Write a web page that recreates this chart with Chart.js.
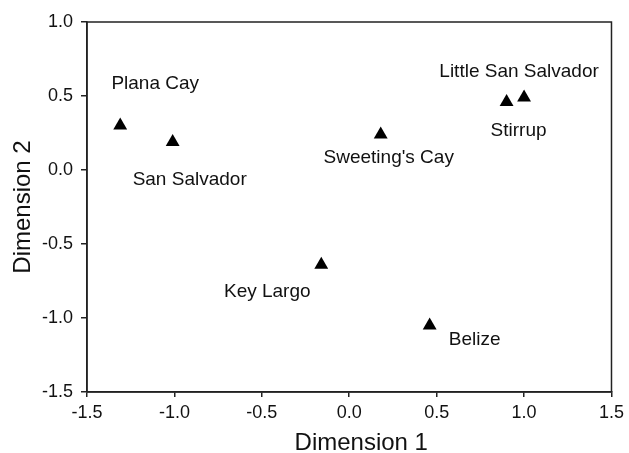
<!DOCTYPE html>
<html>
<head>
<meta charset="utf-8">
<script src="https://cdn.jsdelivr.net/npm/chart.js@4"></script>
<style>
  html, body { margin: 0; padding: 0; background: #fff; }
  #wrap { width: 629px; height: 453px; position: relative; }
</style>
</head>
<body>
<div id="wrap"><canvas id="c"></canvas></div>
<script>
// ---- data ----
const sites = ['Plana Cay', 'San Salvador', "Sweeting's Cay", 'Little San Salvador', 'Stirrup', 'Key Largo', 'Belize'];
const dim1 = [-1.31, -1.01, 0.18, 1.00, 0.90, -0.16, 0.46];
const dim2 = [0.30, 0.19, 0.24, 0.49, 0.46, -0.64, -1.05];
const xTicks = [-1.5, -1.0, -0.5, 0.0, 0.5, 1.0, 1.5];
const yTicks = [-1.5, -1.0, -0.5, 0.0, 0.5, 1.0];
const xTitle = 'Dimension 1';
const yTitle = 'Dimension 2';

// ---- label placement (pixel offsets from the marker: text centre x, baseline y) ----
const labelOffsets = {
  'Plana Cay': [35, -37],
  'San Salvador': [17, 43],
  "Sweeting's Cay": [8, 29],
  'Little San Salvador': [-5, -20],
  'Stirrup': [12, 34],
  'Key Largo': [-54, 32],
  'Belize': [45, 20]
};

const FONT = '"Liberation Sans", Arial, Helvetica, sans-serif';
const AXIS_COLOR = '#222';

const pointLabels = {
  id: 'pointLabels',
  afterDatasetsDraw(chart) {
    const ctx = chart.ctx;
    const meta = chart.getDatasetMeta(0);
    ctx.save();
    ctx.font = '19px ' + FONT;
    ctx.fillStyle = '#111';
    ctx.textAlign = 'center';
    ctx.textBaseline = 'alphabetic';
    meta.data.forEach((el, i) => {
      const off = labelOffsets[sites[i]] || [0, 0];
      ctx.fillText(sites[i], el.x + off[0], el.y + off[1]);
    });
    ctx.restore();
  }
};

const frame = {
  id: 'frame',
  afterDraw(chart) {
    const a = chart.chartArea;
    const ctx = chart.ctx;
    ctx.save();
    ctx.strokeStyle = AXIS_COLOR;
    ctx.lineWidth = 1.5;
    ctx.beginPath();
    ctx.moveTo(a.left, a.bottom);
    ctx.lineTo(a.left, a.top);
    ctx.lineTo(a.right, a.top);
    ctx.lineTo(a.right, a.bottom);
    ctx.lineTo(a.left, a.bottom);
    ctx.stroke();
    // axis titles
    ctx.fillStyle = '#111';
    ctx.font = '24px ' + FONT;
    ctx.textAlign = 'center';
    ctx.textBaseline = 'alphabetic';
    ctx.fillText(xTitle, (a.left + a.right) / 2 + 12, 450);
    ctx.translate(30, (a.top + a.bottom) / 2);
    ctx.rotate(-Math.PI / 2);
    ctx.fillText(yTitle, 0, 0);
    ctx.restore();
  }
};

new Chart(document.getElementById('c'), {
  type: 'scatter',
  data: {
    datasets: [{
      label: 'sites',
      data: dim1.map((x, i) => ({ x: x, y: dim2[i] })),
      pointStyle: 'triangle',
      pointRadius: 8,
      pointHoverRadius: 8,
      backgroundColor: '#000',
      borderColor: '#000',
      borderWidth: 0
    }]
  },
  options: {
    responsive: true,
    maintainAspectRatio: false,
    animation: false,
    devicePixelRatio: 1,
    layout: { padding: { left: 0, top: 22, right: 13, bottom: 0 } },
    plugins: { legend: { display: false }, tooltip: { enabled: false } },
    scales: {
      x: {
        type: 'linear',
        min: -1.5, max: 1.5,
        afterBuildTicks: (s) => { s.ticks = xTicks.map(v => ({ value: v })); },
        afterFit: (s) => { s.height = 61; },
        grid: { drawOnChartArea: false, drawTicks: true, tickLength: 5, color: AXIS_COLOR, lineWidth: 1.5 },
        border: { display: true, color: AXIS_COLOR, width: 1.5 },
        ticks: {
          color: '#111', padding: 5,
          font: { size: 18, family: FONT },
          maxRotation: 0, autoSkip: false,
          callback: (v) => Number(v).toFixed(1)
        },
        title: { display: false }
      },
      y: {
        type: 'linear',
        min: -1.5, max: 1.0,
        afterBuildTicks: (s) => { s.ticks = yTicks.map(v => ({ value: v })); },
        afterFit: (s) => { s.width = 87; },
        grid: { drawOnChartArea: false, drawTicks: true, tickLength: 6, color: AXIS_COLOR, lineWidth: 1.5 },
        border: { display: true, color: AXIS_COLOR, width: 1.5 },
        ticks: {
          color: '#111', padding: 8,
          font: { size: 18, family: FONT },
          autoSkip: false,
          callback: (v) => Number(v).toFixed(1)
        },
        title: { display: false }
      }
    }
  },
  plugins: [pointLabels, frame]
});
</script>
</body>
</html>
